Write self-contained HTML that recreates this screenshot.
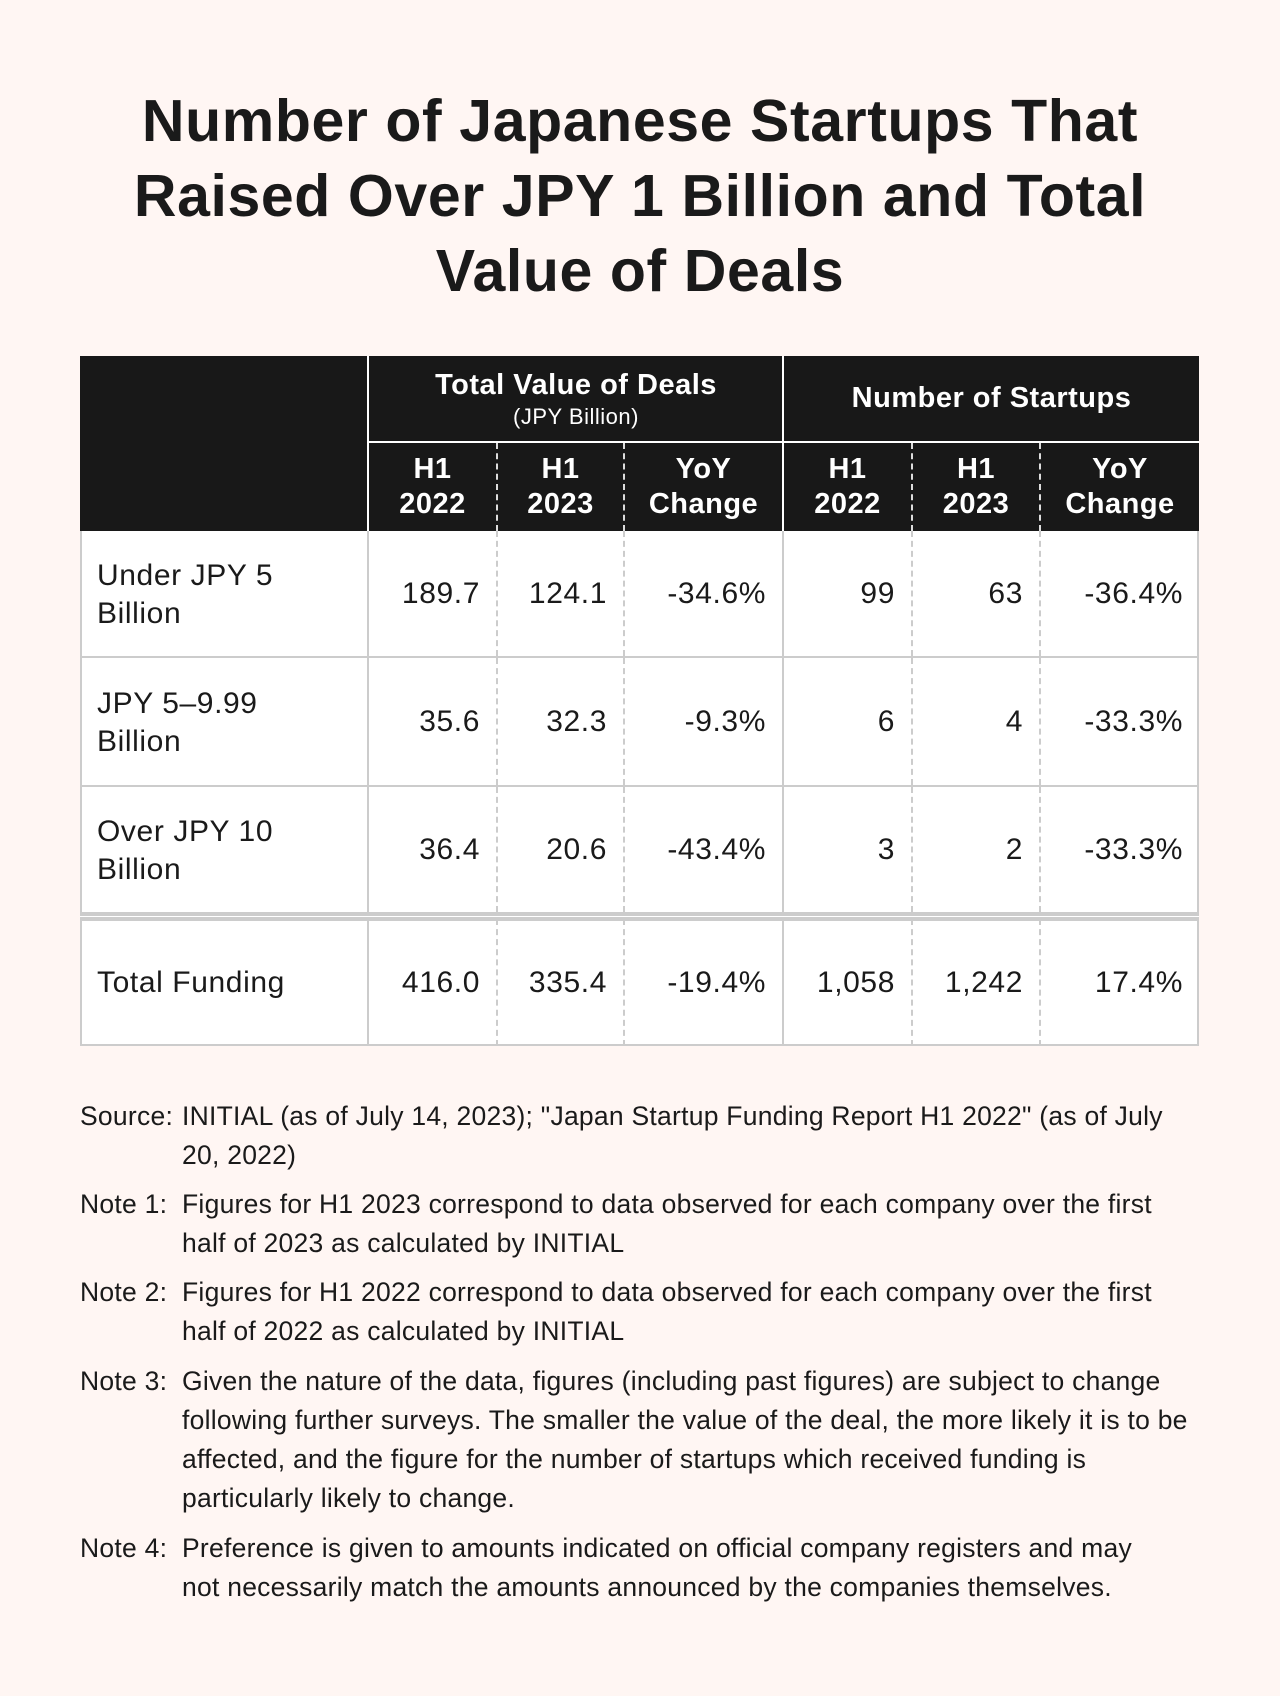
<!DOCTYPE html>
<html><head><meta charset="utf-8"><style>
body{margin:0;width:1280px;height:1696px;background:#fff6f3;font-family:"Liberation Sans",sans-serif;color:#1a1a1a;position:relative;overflow:hidden}
.a{position:absolute;box-sizing:border-box}
h1{position:absolute;left:0;width:1280px;top:84px;margin:0;text-align:center;font-size:59px;letter-spacing:0.6px;line-height:75px;font-weight:bold}
.hd{background:#181818;color:#fff;font-weight:bold;font-size:29px;letter-spacing:0.5px;text-align:center;display:flex;align-items:center;justify-content:center;line-height:35px}
.c{font-size:30px;letter-spacing:0.6px;display:flex;align-items:center;line-height:38px}
.n{justify-content:flex-end;padding-right:16px}
.l{padding-left:17px}
.note{position:absolute;left:80px;width:1120px;font-size:26.5px;letter-spacing:0.25px;line-height:39px;display:flex}
.note .k{width:102px;flex:none}
</style></head><body>
<h1>Number of Japanese Startups That<br>Raised Over JPY 1 Billion and Total<br>Value of Deals</h1>
<div id="tbl"></div>
<div id="notes"></div>
<script>
const rowLabels=["Under JPY 5<br>Billion","JPY 5–9.99<br>Billion","Over JPY 10<br>Billion","Total Funding"];
const valueH1_2022=["189.7","35.6","36.4","416.0"];
const valueH1_2023=["124.1","32.3","20.6","335.4"];
const valueYoY=["-34.6%","-9.3%","-43.4%","-19.4%"];
const countH1_2022=["99","6","3","1,058"];
const countH1_2023=["63","4","2","1,242"];
const countYoY=["-36.4%","-33.3%","-33.3%","17.4%"];
const subHeaders=["H1<br>2022","H1<br>2023","YoY<br>Change","H1<br>2022","H1<br>2023","YoY<br>Change"];
const X=[80,367,496,623,782,911,1039,1199];
const rows=[[531,658],[658,787],[787,914],[919,1046]];
const T=document.getElementById('tbl');
function box(x,y,w,h,cls,html,css){const d=document.createElement('div');d.className='a '+cls;d.style.cssText=`left:${x}px;top:${y}px;width:${w}px;height:${h}px;`+(css||'');d.innerHTML=html||'';T.appendChild(d);return d;}
let e=box(80,356,1119,175,'','','background:#181818');


e=box(367,356,416,87,'hd','<div>Total Value of Deals<div style="font-weight:normal;font-size:22px;line-height:27px">(JPY Billion)</div></div>','border-left:2px solid #fff;border-bottom:2px solid #fff');


e=box(782,356,417,87,'hd','Number of Startups','border-left:2px solid #fff;border-bottom:2px solid #fff');


subHeaders.forEach((s,i)=>{const brd=(i==0||i==3)?'border-left:2px solid #fff':'border-left:2px dashed #ddd';
 const d=box(X[i+1],443,X[i+2]-X[i+1],88,'hd',s,brd);
 
 });
const cols=[valueH1_2022,valueH1_2023,valueYoY,countH1_2022,countH1_2023,countYoY];
rows.forEach((r,ri)=>{
 const bg=box(80,r[0],1119,r[1]-r[0],'','','background:#fff;border:2px solid #ccc;'+(ri<3?'border-top:none;':''));
 
 
 const lb=box(80,r[0],287,r[1]-r[0],'c l',rowLabels[ri]);
 
 
 cols.forEach((c,ci)=>{const brd=(ci==0||ci==3)?'border-left:2px solid #ccc':'border-left:2px dashed #ccc';
  const d=box(X[ci+1],r[0],X[ci+2]-X[ci+1],r[1]-r[0]-(ri<3?2:0),'c n',c[ri],brd);
  
  });
});
e=box(80,914,1119,5,'','','background:#fff;border-top:2px solid #ccc;border-bottom:2px solid #ccc');


const notes=[["Source:",'INITIAL (as of July 14, 2023); "Japan Startup Funding Report H1 2022" (as of July 20, 2022)'],
["Note 1:","Figures for H1 2023 correspond to data observed for each company over the first half of 2023 as calculated by INITIAL"],
["Note 2:","Figures for H1 2022 correspond to data observed for each company over the first half of 2022 as calculated by INITIAL"],
["Note 3:","Given the nature of the data, figures (including past figures) are subject to change following further surveys. The smaller the value of the deal, the more likely it is to be affected, and the figure for the number of startups which received funding is particularly likely to change."],
["Note 4:","Preference is given to amounts indicated on official company registers and may<br>not necessarily match the amounts announced by the companies themselves."]];
const noteY=[1097,1185,1273,1362,1529];
const N=document.getElementById('notes');
notes.forEach((n,i)=>{const d=document.createElement('div');d.className='note';d.style.top=noteY[i]+'px';
 d.innerHTML=`<span class="k">${n[0]}</span><span>${n[1]}</span>`;
 
 
 N.appendChild(d);});
</script>
</body></html>
